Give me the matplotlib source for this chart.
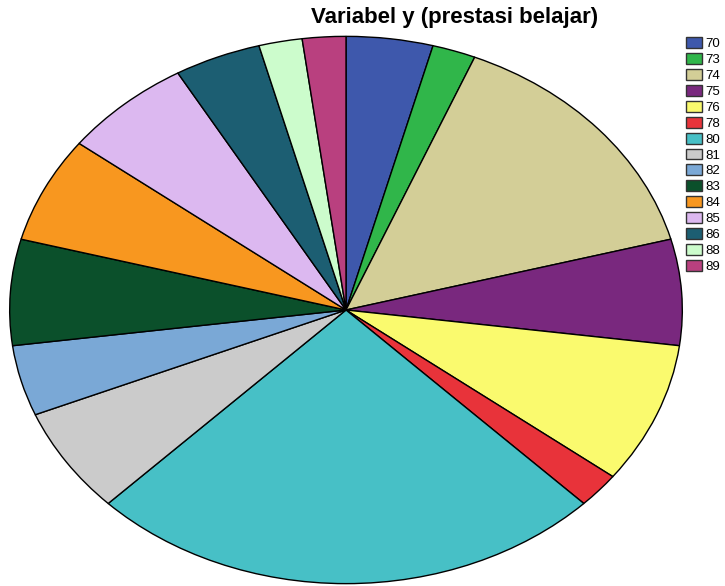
import matplotlib.pyplot as plt
from matplotlib.patches import Patch

plt.rcParams['font.family'] = ['Liberation Sans', 'DejaVu Sans']

# frequency of each score
labels = ['70', '73', '74', '75', '76', '78', '80', '81', '82', '83', '84', '85', '86', '88', '89']
counts = [2, 1, 7, 3, 4, 1, 12, 3, 2, 3, 3, 3, 2, 1, 1]
colors = ['#3e58ac', '#30b64a', '#d3ce97', '#79287e', '#fafa6e', '#e8333a', '#47c0c6',
          '#cbcbcb', '#7aa8d6', '#0b502b', '#f8971f', '#dcb8f0', '#1c5e72', '#ccfccc', '#b9407f']

fig = plt.figure(figsize=(7.25, 5.86), dpi=100)
# axes stretched so the pie comes out as an ellipse, like the original
ax = fig.add_axes([8 / 725, 1 / 586, 676 / 725, 550 / 586])
ax.pie(counts, colors=colors, startangle=90, counterclock=False,
       wedgeprops=dict(edgecolor='black', linewidth=1))
ax.set_aspect('auto')
ax.set_xlim(-1.005, 1.005)
ax.set_ylim(-1.005, 1.005)
ax.axis('off')

fig.text(455 / 725, 1 - 18 / 586, 'Variabel y (prestasi belajar)', ha='center', va='center',
         fontsize=16, fontweight='bold')

handles = [Patch(facecolor=c, edgecolor='#333333', linewidth=1) for c in colors]
fig.legend(handles, labels, loc='upper left', bbox_to_anchor=(686 / 725, 1 - 37 / 586),
           frameon=False, fontsize=9.5, handlelength=1.2, handleheight=0.9,
           handletextpad=0.25, labelspacing=0.22, borderaxespad=0, borderpad=0)

fig.savefig('out.png', dpi=100)
